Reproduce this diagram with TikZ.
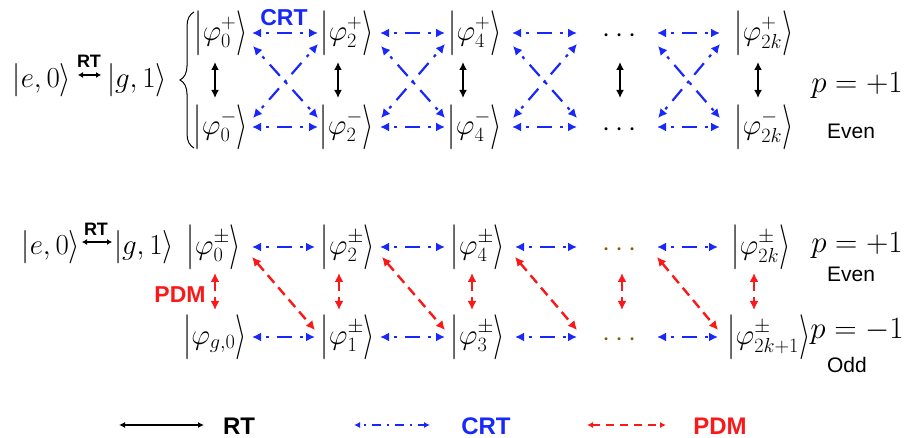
\RequirePackage{fix-cm}
\documentclass[tikz,border=0pt]{standalone}
\usepackage{amsmath}
\usepackage{fontspec}
\setsansfont{Liberation Sans}
\usetikzlibrary{arrows.meta,decorations.pathreplacing,calc}

\definecolor{crtblue}{RGB}{25,40,250}
\definecolor{pdmred}{RGB}{250,25,25}
\definecolor{dotolive}{RGB}{125,95,15}

% ket delimiters stretched to a common height
\newcommand{\kbar}{\mathopen{\vcenter{\hbox{\scalebox{1}[1.55]{$|$}}}}}
\newcommand{\kang}{\mathclose{\vcenter{\hbox{\scalebox{1}[1.55]{$\rangle$}}}}}
\newcommand{\kt}[1]{$\kbar #1 \kang$}
\newcommand{\kts}[1]{$\mathopen{\vcenter{\hbox{\scalebox{1}[1.15]{$|$}}}} #1 \mathclose{\vcenter{\hbox{\scalebox{1}[1.15]{$\rangle$}}}}$}

\begin{document}
\begin{tikzpicture}[x=1pt,y=-1pt,
  ket/.style={inner sep=0pt, font=\fontsize{29}{34}\selectfont},
  parity/.style={inner sep=0pt, font=\fontsize{31}{36}\selectfont},
  tag/.style={inner sep=0pt, font=\fontsize{21}{24}\selectfont\sffamily},
  rtlab/.style={inner sep=0pt, font=\fontsize{18}{21}\selectfont\sffamily\bfseries},
  lab/.style={inner sep=0pt, font=\fontsize{23}{26}\selectfont\sffamily\bfseries},
  leglab/.style={inner sep=0pt, font=\fontsize{24}{27}\selectfont\sffamily\bfseries},
  rt/.style={draw=black, line width=2.2pt, <->, >={Latex[length=8pt,width=8pt]}},
  rtsmall/.style={draw=black, line width=1.6pt, <->, >={Latex[length=5pt,width=6pt]}},
  crt/.style={draw=crtblue, line width=2.2pt, <->, >={Latex[length=9pt,width=9pt]},
    dash pattern=on 3pt off 8pt on 15pt off 8pt, dash phase=28pt},
  pdm/.style={draw=pdmred, line width=2.4pt, <->, >={Latex[length=9pt,width=9pt]},
    dash pattern=on 10pt off 6pt},
  legrt/.style={rt, line width=1.6pt, >={Latex[length=6pt,width=6pt]}},
  legcrt/.style={crt, line width=1.6pt, >={Latex[length=6pt,width=6pt]},
    dash pattern=on 2pt off 6pt on 9pt off 6pt, dash phase=18pt},
  legpdm/.style={pdm, line width=1.6pt, >={Latex[length=6pt,width=6pt]},
    dash pattern=on 8pt off 6pt},
  brace/.style={draw=black, line width=1pt, decorate, decoration={brace, amplitude=14pt}}
]
\useasboundingbox (0,0) rectangle (911,438);

% ---------------- upper scheme: p = +1 ----------------
\node[ket] (e0t) at (42,80) {\kts{e,0}};
\node[ket] (g1t) at (137,80) {\kts{g,1}};
\node[rtlab] (rtt) at (89,61) {RT};
\draw[rtsmall] ($(e0t)+(36,-5)$) -- ($(g1t)+(-36,-5)$);
\draw[brace] (194,148) -- (194,12);

\node[ket] (t0u) at (221,33) {\kt{\varphi_0^{+}}};
\node[ket] (t0d) at (221,127) {\kt{\varphi_0^{-}}};
\node[ket] (t2u) at (347,33) {\kt{\varphi_2^{+}}};
\node[ket] (t2d) at (347,127) {\kt{\varphi_2^{-}}};
\node[ket] (t4u) at (475,33) {\kt{\varphi_4^{+}}};
\node[ket] (t4d) at (475,127) {\kt{\varphi_4^{-}}};
\node[ket] (tdu) at (622,36) {$\cdots$};
\node[ket] (tdd) at (622,130) {$\cdots$};
\node[ket] (tku) at (764,33) {\kt{\varphi_{2k}^{+}}};
\node[ket] (tkd) at (764,127) {\kt{\varphi_{2k}^{-}}};
\node[lab, text=crtblue] (crtt) at (284,18) {CRT};
\node[parity] (pt) at (857,86) {$p=+1$};
\node[tag] (evt) at (851,131) {Even};

% rotating terms inside each column
\draw[rt] ($(t0u)+(-6,29)$) -- ($(t0d)+(-6,-29)$);
\draw[rt] ($(t2u)+(-9,29)$) -- ($(t2d)+(-9,-29)$);
\draw[rt] ($(t4u)+(-12,29)$) -- ($(t4d)+(-12,-29)$);
\draw[rt] ($(tdu)+(-2,26)$) -- ($(tdd)+(-2,-32)$);
\draw[rt] ($(tku)+(-6,29)$) -- ($(tkd)+(-6,-29)$);

% counter-rotating terms between neighbouring columns
\draw[crt] ($(t0u)+(31,0)$) -- ($(t2u)+(-29,0)$);
\draw[crt] ($(t0d)+(31,0)$) -- ($(t2d)+(-29,0)$);
\draw[crt] ($(t0u)+(32,13)$) -- ($(t2d)+(-29,-9)$);
\draw[crt] ($(t2u)+(-29,11)$) -- ($(t0d)+(32,-9)$);

\draw[crt] ($(t2u)+(33,0)$) -- ($(t4u)+(-30,0)$);
\draw[crt] ($(t2d)+(33,0)$) -- ($(t4d)+(-30,0)$);
\draw[crt] ($(t2u)+(34,13)$) -- ($(t4d)+(-30,-9)$);
\draw[crt] ($(t4u)+(-30,11)$) -- ($(t2d)+(34,-9)$);

\draw[crt] ($(t4u)+(37,0)$) -- ($(tdu)+(-45,-3)$);
\draw[crt] ($(t4d)+(37,0)$) -- ($(tdd)+(-45,-3)$);
\draw[crt] ($(t4u)+(38,13)$) -- ($(tdd)+(-45,-12)$);
\draw[crt] ($(tdu)+(-45,8)$) -- ($(t4d)+(38,-9)$);

\draw[crt] ($(tdu)+(35,-3)$) -- ($(tku)+(-44,0)$);
\draw[crt] ($(tdd)+(35,-3)$) -- ($(tkd)+(-44,0)$);
\draw[crt] ($(tdu)+(36,10)$) -- ($(tkd)+(-44,-9)$);
\draw[crt] ($(tku)+(-44,11)$) -- ($(tdd)+(36,-12)$);

% ---------------- lower scheme: p = +1 / p = -1 ----------------
\node[ket] (e0b) at (51,247) {\kts{e,0}};
\node[ket] (g1b) at (144,247) {\kts{g,1}};
\node[rtlab] (rtb) at (96,229) {RT};
\draw[rtsmall] ($(e0b)+(31,-5)$) -- ($(g1b)+(-32,-5)$);

\node[ket] (b0u) at (214,247) {\kt{\varphi_0^{\pm}}};
\node[ket] (b2u) at (348,247) {\kt{\varphi_2^{\pm}}};
\node[ket] (b4u) at (478,247) {\kt{\varphi_4^{\pm}}};
\node[ket, text=dotolive] (bdu) at (622,250) {$\cdots$};
\node[ket] (bku) at (761,247) {\kt{\varphi_{2k}^{\pm}}};

\node[ket] (bgd) at (215,337) {\kt{\varphi_{g,0}}};
\node[ket] (b1d) at (348,337) {\kt{\varphi_1^{\pm}}};
\node[ket] (b3d) at (478,337) {\kt{\varphi_3^{\pm}}};
\node[ket, text=dotolive] (bdd) at (622,340) {$\cdots$};
\node[ket] (bkd) at (769,337) {\kt{\varphi_{2k+1}^{\pm}}};

\node[lab, text=pdmred] (pdml) at (180,295) {PDM};
\node[parity] (pbu) at (857,246) {$p=+1$};
\node[tag] (evb) at (851,274) {Even};
\node[parity] (pbd) at (857,332) {$p=-1$};
\node[tag] (odb) at (847,365) {Odd};

% parity-dependent mixing between the two chains
\draw[pdm] ($(b0u)+(1,26)$) -- ($(bgd)+(0,-27)$);
\draw[pdm] ($(b2u)+(-9,26)$) -- ($(b1d)+(-9,-27)$);
\draw[pdm] ($(b4u)+(-6,26)$) -- ($(b3d)+(-6,-27)$);
\draw[pdm] ($(bdu)+(0,23)$) -- ($(bdd)+(0,-30)$);
\draw[pdm] ($(bku)+(-7,26)$) -- ($(bkd)+(-15,-27)$);

\draw[pdm] ($(b0u)+(38,10)$) -- ($(b1d)+(-33,-7)$);
\draw[pdm] ($(b2u)+(34,10)$) -- ($(b3d)+(-33,-7)$);
\draw[pdm] ($(b4u)+(37,10)$) -- ($(bdd)+(-45,-10)$);
\draw[pdm] ($(bdu)+(35,7)$) -- ($(bkd)+(-51,-7)$);

% counter-rotating terms along each chain
\draw[crt] ($(b0u)+(38,0)$) -- ($(b2u)+(-33,0)$);
\draw[crt] ($(b2u)+(32,0)$) -- ($(b4u)+(-33,0)$);
\draw[crt] ($(b4u)+(37,0)$) -- ($(bdu)+(-45,-3)$);
\draw[crt] ($(bdu)+(35,-3)$) -- ($(bku)+(-43,0)$);
\draw[crt] ($(bgd)+(37,0)$) -- ($(b1d)+(-33,0)$);
\draw[crt] ($(b1d)+(32,0)$) -- ($(b3d)+(-33,0)$);
\draw[crt] ($(b3d)+(37,0)$) -- ($(bdd)+(-45,-3)$);
\draw[crt] ($(bdd)+(35,-3)$) -- ($(bkd)+(-51,0)$);

% ---------------- legend ----------------
\coordinate (la1) at (119,425);
\coordinate (la2) at (204,425);
\coordinate (lb1) at (354,425);
\coordinate (lb2) at (430,425);
\coordinate (lc1) at (587,425);
\coordinate (lc2) at (666,425);
\draw[legrt] (la1) -- (la2);
\draw[legcrt] (lb1) -- (lb2);
\draw[legpdm] (lc1) -- (lc2);
\node[leglab] (lrt) at (239,426) {RT};
\node[leglab, text=crtblue] (lcrt) at (486,426) {CRT};
\node[leglab, text=pdmred] (lpdm) at (720,426) {PDM};
\end{tikzpicture}
\end{document}
